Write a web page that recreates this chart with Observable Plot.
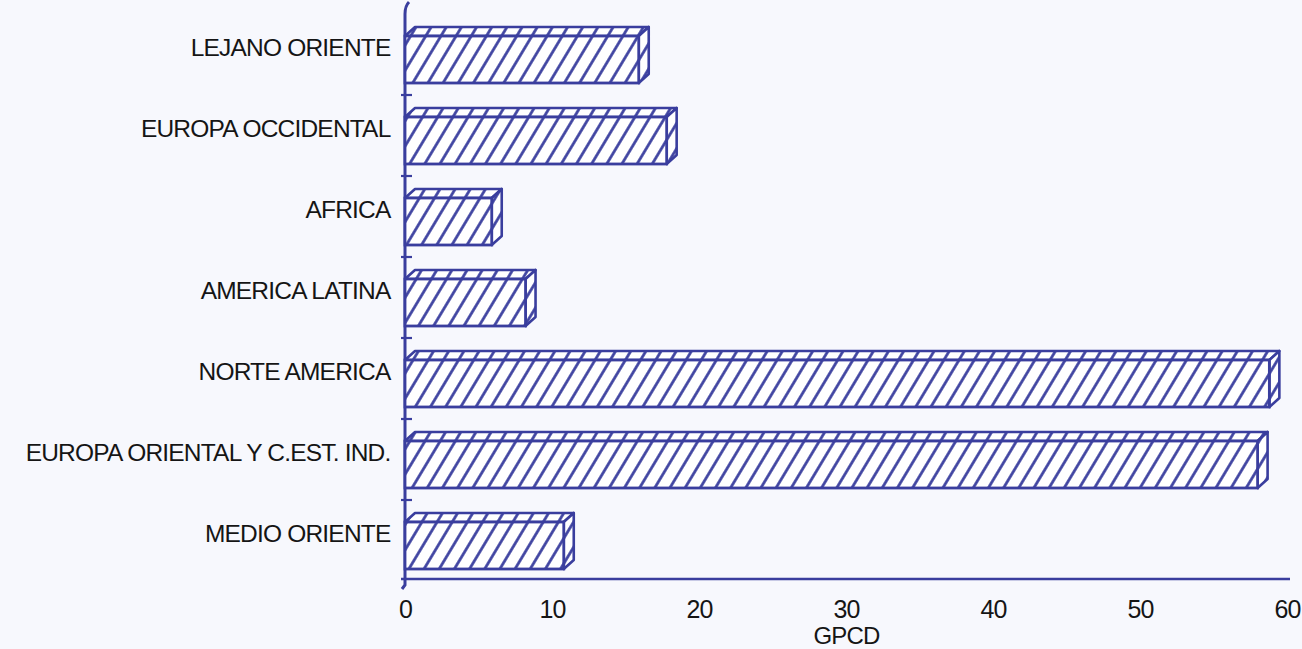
<!DOCTYPE html>
<html>
<head>
<meta charset="utf-8">
<script src="https://cdn.jsdelivr.net/npm/d3@7"></script>
<script src="https://cdn.jsdelivr.net/npm/@observablehq/plot@0.6"></script>
<style>
  html, body { margin: 0; padding: 0; background: #f7f8fd; }
  #chart svg { display: block; }
</style>
</head>
<body>
<div id="chart"></div>
<script>
const regions = ["LEJANO ORIENTE", "EUROPA OCCIDENTAL", "AFRICA", "AMERICA LATINA", "NORTE AMERICA", "EUROPA ORIENTAL Y C.EST. IND.", "MEDIO ORIENTE"];
const gpcd = [15.9, 17.8, 5.9, 8.2, 58.8, 58.0, 10.8];
const xTicks = [0, 10, 20, 30, 40, 50, 60];
const xLabel = "GPCD";

const data = regions.map((r, i) => ({region: r, value: gpcd[i]}));
const BLUE = "#3a3e9e";
const FONT = "'Liberation Sans', Arial, sans-serif";
const W = 1302, H = 649, mL = 405, mR = 15, mT = 14, mB = 68;
const DX = 10, DY = 9, TOP = 22, BOT = 12;

const svgNS = "http://www.w3.org/2000/svg";
function el(name, attrs) {
  const e = document.createElementNS(svgNS, name);
  for (const k in attrs) e.setAttribute(k, attrs[k]);
  return e;
}

const chart = Plot.plot({
  width: W, height: H,
  marginLeft: mL, marginRight: mR, marginTop: mT, marginBottom: mB,
  style: {background: "transparent", fontFamily: FONT, color: "#151515"},
  x: {domain: [0, 60]},
  y: {domain: regions, padding: 0},
  marks: [
    // 3D top and side faces + axis lines
    Plot.barX(data, {
      x: "value", y: "region",
      render(index, scales, values, dims) {
        const g = el("g", {});
        const bw = scales.y(regions[1]) - scales.y(regions[0]);
        const x0 = scales.x(0);
        for (const i of index) {
          const yb = scales.y(data[i].region);
          const y1 = yb + TOP, y2 = yb + bw - BOT;
          const x2 = scales.x(data[i].value);
          g.appendChild(el("path", {
            d: `M${x0},${y1}L${x0 + DX},${y1 - DY}L${x2 + DX},${y1 - DY}L${x2},${y1}Z`,
            fill: "url(#hatch)", stroke: BLUE, "stroke-width": 2.6, "stroke-linejoin": "round"
          }));
          g.appendChild(el("path", {
            d: `M${x2},${y1}L${x2 + DX},${y1 - DY}L${x2 + DX},${y2 - DY}L${x2},${y2}Z`,
            fill: "url(#hatch)", stroke: BLUE, "stroke-width": 2.6, "stroke-linejoin": "round"
          }));
        }
        const bottom = H - mB - 2;
        g.appendChild(el("path", {d: `M${x0 + 4},${2}Q${x0},${6} ${x0},${14}L${x0},${bottom + 6}L${x0 - 3},${bottom + 10}`, fill: "none", stroke: BLUE, "stroke-width": 3}));
        g.appendChild(el("line", {x1: x0 - 4, x2: W - mR + 3, y1: bottom, y2: bottom, stroke: BLUE, "stroke-width": 2.6}));
        for (let k = 1; k < regions.length; k++) {
          const yy = scales.y(regions[k]);
          g.appendChild(el("line", {x1: x0 - 4, x2: x0 + 7, y1: yy, y2: yy, stroke: BLUE, "stroke-width": 2.2}));
        }
        return g;
      }
    }),
    // front faces
    Plot.barX(data, {
      x: "value", y: "region",
      insetTop: TOP, insetBottom: BOT,
      fill: "url(#hatch)", stroke: BLUE, strokeWidth: 2.8
    }),
    Plot.axisX(xTicks, {tickSize: 0, tickPadding: 19, fontSize: 25, label: null, fill: "#151515"}),
    Plot.axisY({tickSize: 0, tickPadding: 15, fontSize: 24.5, dy: -7, label: null, fill: "#151515"}),
    Plot.text([xLabel], {x: 30, frameAnchor: "bottom", dy: 62, fontSize: 24, fill: "#151515"})
  ]
});

const defs = el("defs", {});
const pat = el("pattern", {id: "hatch", patternUnits: "userSpaceOnUse", width: 13, height: 13, patternTransform: "rotate(31)"});
pat.appendChild(el("rect", {x: 0, y: 0, width: 13, height: 13, fill: "#ffffff"}));
pat.appendChild(el("line", {x1: 6.5, y1: -1, x2: 6.5, y2: 14, stroke: BLUE, "stroke-width": 2.7}));
defs.appendChild(pat);
chart.insertBefore(defs, chart.firstChild);
chart.querySelectorAll("text").forEach(t => t.setAttribute("letter-spacing", "-0.8"));
document.getElementById("chart").appendChild(chart);
</script>
</body>
</html>
